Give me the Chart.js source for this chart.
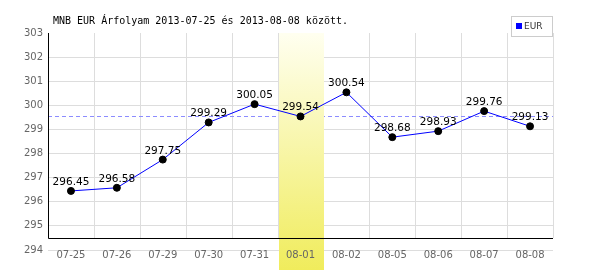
<!DOCTYPE html>
<html lang="hu">
<head>
  <meta charset="UTF-8" />
  <title>MNB EUR árfolyam</title>
  <script src="https://cdn.jsdelivr.net/npm/chart.js"></script>
  <style>
    body {
      margin: 0;
      background: #fff;
    }
    .chart-wrapper {
      width: 600px;
      height: 270px;
    }
  </style>
</head>
<body>
<div class="chart-wrapper"><canvas id="eurChart"></canvas></div>

<script>
  // adatok
  const napok = ['07-25', '07-26', '07-29', '07-30', '07-31', '08-01', '08-02', '08-05', '08-06', '08-07', '08-08'];
  const arfolyam = [296.45, 296.58, 297.75, 299.29, 300.05, 299.54, 300.54, 298.68, 298.93, 299.76, 299.13];
  const yMin = 294;
  const yMax = 303;
  const atlag = 299.55;
  const kiemeltNap = '08-01';
  const cim = 'MNB EUR Árfolyam 2013-07-25 és 2013-08-08 között.';
  const sorozatNev = 'EUR';

  const rajzolo = {
    id: 'rajzolo',
    beforeDatasetsDraw(chart) {
      const { ctx, chartArea: a, scales: { x, y } } = chart;
      const fel = (x.getPixelForValue(1) - x.getPixelForValue(0)) / 2;
      const tengelyY = a.bottom - 12;
      ctx.save();

      // függőleges rácsvonalak
      ctx.strokeStyle = '#dddddd';
      ctx.lineWidth = 1;
      napok.forEach((n, i) => {
        const px = Math.round(x.getPixelForValue(i) + fel) + 0.5;
        ctx.beginPath();
        ctx.moveTo(px, a.top);
        ctx.lineTo(px, tengelyY);
        ctx.stroke();
      });

      // átlag vonal
      const ay = Math.round(y.getPixelForValue(atlag)) + 0.5;
      ctx.strokeStyle = '#8c8cff';
      ctx.setLineDash([4, 3]);
      ctx.beginPath();
      ctx.moveTo(a.left, ay);
      ctx.lineTo(a.right, ay);
      ctx.stroke();
      ctx.setLineDash([]);

      // kiemelt nap sávja
      const ki = napok.indexOf(kiemeltNap);
      const cx = x.getPixelForValue(ki);
      const g = ctx.createLinearGradient(0, a.top, 0, chart.height);
      g.addColorStop(0, '#fffff0');
      g.addColorStop(1, '#f0ec5c');
      ctx.fillStyle = g;
      ctx.fillRect(Math.round(cx - fel) + 1, a.top, Math.round(2 * fel) - 1, chart.height - a.top);

      // tengelyek
      ctx.strokeStyle = '#000';
      ctx.beginPath();
      ctx.moveTo(a.left + 0.5, a.top);
      ctx.lineTo(a.left + 0.5, tengelyY + 0.5);
      ctx.lineTo(a.right, tengelyY + 0.5);
      ctx.stroke();
      ctx.restore();
    },
    afterDatasetsDraw(chart) {
      const { ctx } = chart;
      const meta = chart.getDatasetMeta(0);
      ctx.save();
      ctx.fillStyle = '#000';
      ctx.font = '10.5px "DejaVu Sans"';
      ctx.textAlign = 'center';
      ctx.textBaseline = 'alphabetic';
      meta.data.forEach((p, i) => {
        ctx.fillText(arfolyam[i].toFixed(2), p.x, p.y - 6);
      });
      ctx.restore();
    },
    afterDraw(chart) {
      const { ctx } = chart;
      ctx.save();
      // cím
      ctx.fillStyle = '#000';
      ctx.font = '10px "DejaVu Sans Mono"';
      ctx.textAlign = 'left';
      ctx.textBaseline = 'middle';
      ctx.fillText(cim, 53, 21);

      // jelmagyarázat
      ctx.fillStyle = '#fff';
      ctx.fillRect(511, 16, 42, 21);
      ctx.strokeStyle = '#cccccc';
      ctx.strokeRect(511.5, 16.5, 41, 20);
      ctx.fillStyle = '#0000ff';
      ctx.fillRect(516, 23, 6, 6);
      ctx.fillStyle = '#333';
      ctx.font = '9px "DejaVu Sans"';
      ctx.textBaseline = 'middle';
      ctx.fillText(sorozatNev, 524, 26.5);
      ctx.restore();
    },
  };

  new Chart(document.getElementById('eurChart'), {
    type: 'line',
    data: {
      labels: napok,
      datasets: [
        {
          label: sorozatNev,
          data: arfolyam,
          borderColor: '#0000ff',
          borderWidth: 1,
          tension: 0,
          pointRadius: 3.5,
          pointBackgroundColor: '#000',
          pointBorderColor: '#000',
          pointBorderWidth: 1,
          fill: false,
        },
      ],
    },
    options: {
      responsive: true,
      maintainAspectRatio: false,
      animation: false,
      layout: { padding: { top: 33, right: 47, bottom: 0, left: 0 } },
      plugins: {
        legend: { display: false },
        tooltip: { enabled: false },
        title: { display: false },
      },
      scales: {
        x: {
          offset: true,
          grid: { display: false, drawTicks: false },
          border: { display: false },
          ticks: {
            z: 1,
            color: '#666',
            font: { family: 'DejaVu Sans', size: 10 },
            padding: -1,
            maxRotation: 0,
            autoSkip: false,
          },
          afterFit(s) {
            s.height = 20;
          },
        },
        y: {
          min: yMin,
          max: yMax,
          grid: {
            drawTicks: false,
            color: (c) => (c.tick && c.tick.value === yMax ? 'rgba(0,0,0,0)' : '#dddddd'),
          },
          border: { display: false },
          ticks: {
            stepSize: 1,
            color: '#666',
            font: { family: 'DejaVu Sans', size: 10 },
            padding: 5,
          },
          afterFit(s) {
            s.width = 48;
          },
        },
      },
    },
    plugins: [rajzolo],
  });
</script>
</body>
</html>
